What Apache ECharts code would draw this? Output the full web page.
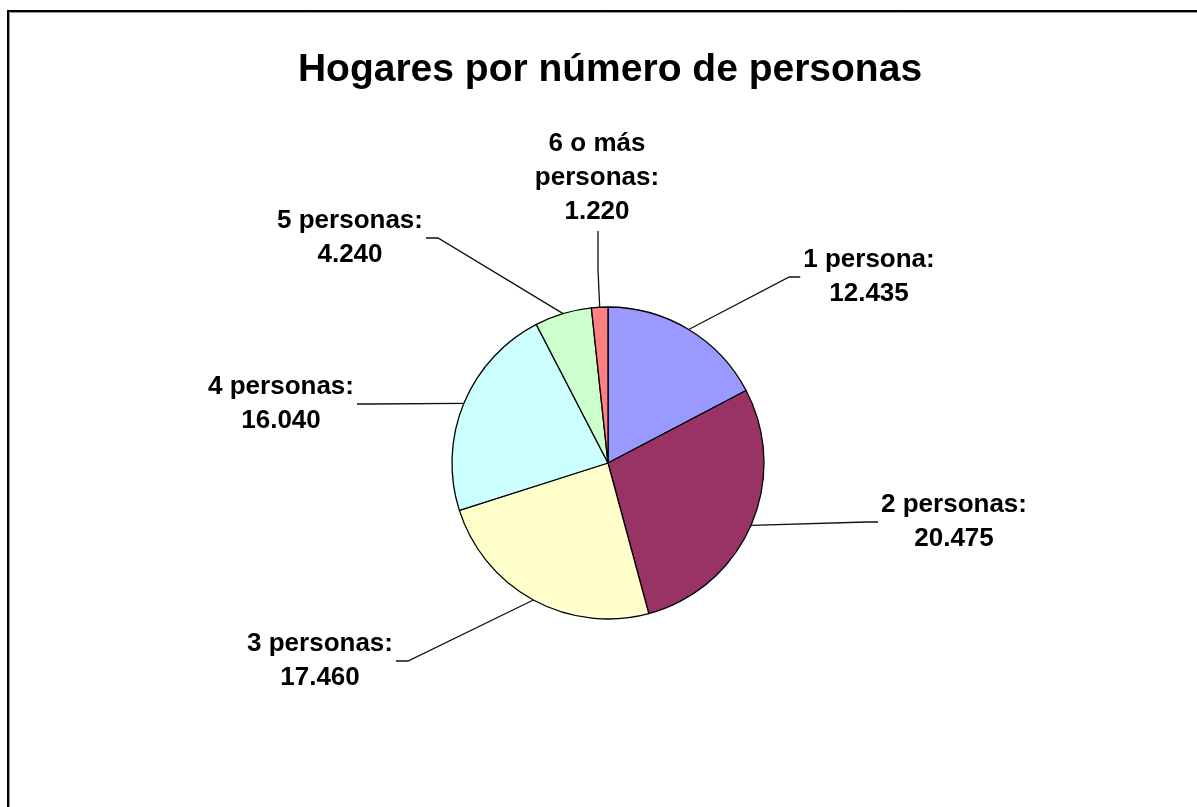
<!DOCTYPE html>
<html>
<head>
<meta charset="utf-8">
<title>Hogares por número de personas</title>
<script src="https://cdn.jsdelivr.net/npm/echarts@6/dist/echarts.min.js"></script>
<style>
  html, body { margin: 0; padding: 0; background: #fff; }
  #chart { width: 1197px; height: 807px; }
</style>
</head>
<body>
<div id="chart"></div>
<script>
const categories = ["1 persona", "2 personas", "3 personas", "4 personas", "5 personas", "6 o más personas"];
const households = [12435, 20475, 17460, 16040, 4240, 1220];
const sliceColors = ["#9999FF", "#993366", "#FFFFCC", "#CCFFFF", "#CCFFCC", "#FF8080"];

// where each label block sits (centre of the text block)
const labelPos = [[869, 277], [954, 522], [320, 661], [281, 404], [350, 238], [597, 178]];

const FONT = "'Liberation Sans', Arial, sans-serif";

// 12435 -> "12.435"
const fmt = (v) => String(v).replace(/\B(?=(\d{3})+(?!\d))/g, ".");

const chart = echarts.init(document.getElementById("chart"));

const option = {
  backgroundColor: "#fff",
  animation: false,
  title: {
    text: "Hogares por número de personas",
    left: 610,
    top: 51,
    padding: 0,
    textAlign: "center",
    textStyle: { fontFamily: FONT, fontSize: 39, fontWeight: "bold", color: "#000" },
  },
  graphic: [
    {
      type: "rect",
      shape: { x: 8, y: 11, width: 1400, height: 1000 },
      style: { fill: "none", stroke: "#000", lineWidth: 2 },
    },
    {
      type: "rect",
      shape: { x: 9.5, y: 12.5, width: 1400, height: 1000 },
      style: { fill: "none", stroke: "#999", lineWidth: 1 },
    },
  ],
  series: [
    {
      type: "pie",
      center: [608, 463],
      radius: 156,
      startAngle: 90,
      clockwise: true,
      data: categories.map((name, i) => ({
        name: name,
        value: households[i],
        itemStyle: { color: sliceColors[i] },
      })),
      itemStyle: { borderColor: "#000", borderWidth: 1.3 },
      emphasis: { disabled: true },
      label: {
        show: true,
        position: "outside",
        fontFamily: FONT,
        fontSize: 26,
        fontWeight: "bold",
        color: "#000",
        lineHeight: 34,
        align: "center",
        formatter: (p) => p.name.replace("6 o más ", "6 o más\n") + ":\n" + fmt(p.value),
      },
      labelLine: {
        show: true,
        smooth: false,
        lineStyle: { color: "#111", width: 1.3 },
      },
      labelLayout: function (params) {
        const i = params.dataIndex;
        const [x, y] = labelPos[i];
        const w = params.labelRect.width;
        const h = params.labelRect.height;
        const start = params.labelLinePoints ? params.labelLinePoints[0] : [x, y];
        let end, elbow;
        if (i === 5) {
          end = [x + 1, y + h / 2 + 2];
          elbow = [x + 1, (end[1] + start[1]) / 2];
        } else if (x > 608) {
          end = [x - w / 2 - 3, y];
          elbow = [end[0] - 11, y];
        } else {
          end = [x + w / 2 + 3, y];
          elbow = [end[0] + 12, y];
        }
        return {
          x: x,
          y: y,
          align: "center",
          verticalAlign: "middle",
          labelLinePoints: [start, elbow, end],
        };
      },
    },
  ],
};

chart.setOption(option);
</script>
</body>
</html>
